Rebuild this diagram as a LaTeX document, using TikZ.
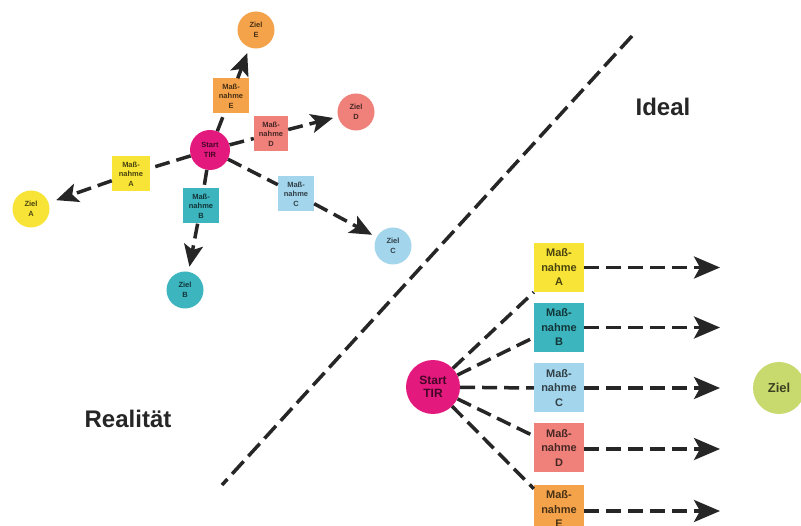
\documentclass[tikz,border=0pt]{standalone}
\usepackage{fontspec}
\setmainfont{Liberation Sans}
\usetikzlibrary{arrows.meta}
\definecolor{cyel}{HTML}{F7E436}
\definecolor{cteal}{HTML}{3DB5BE}
\definecolor{clblue}{HTML}{A3D5EC}
\definecolor{csalm}{HTML}{EF817A}
\definecolor{corng}{HTML}{F5A34A}
\definecolor{cmag}{HTML}{E3197E}
\definecolor{cgreen}{HTML}{C8DA6E}
\tikzset{
  x=1pt, y=-1pt,
  conn/.style={line width=3.5pt, dash pattern=on 15pt off 7pt, black!85},
  arr/.style={conn, -{Stealth[length=26pt,width=22pt,inset=6pt]}},
  sarr/.style={conn, -{Stealth[length=22pt,width=19pt,inset=5pt]}},
  sbox/.style={draw=none, fill=#1, text=black!70!#1, minimum width=36pt, minimum height=35pt, inner sep=0pt, align=center, font=\bfseries\fontsize{7.5}{9.5}\selectfont},
  bbox/.style={draw=none, fill=#1, text=black!70!#1, minimum width=50pt, minimum height=49pt, inner sep=0pt, align=center, font=\bfseries\fontsize{11}{14.5}\selectfont},
  scirc/.style={circle, draw=none, fill=#1, text=black!70!#1, minimum size=37pt, inner sep=0pt, align=center, font=\bfseries\fontsize{7.5}{9.5}\selectfont},
  bcirc/.style={circle, draw=none, fill=#1, text=black!70!#1, minimum size=54pt, inner sep=0pt, align=center, font=\bfseries\fontsize{12}{13.5}\selectfont},
  bigtext/.style={font=\bfseries\fontsize{24}{28}\selectfont, text=black!85},
}
\begin{document}
\begin{tikzpicture}
\useasboundingbox (0,0) rectangle (801,526);
\clip (0,0) rectangle (801,526);
\fill[white] (0,0) rectangle (801,526);

% divider
\coordinate (d1) at (632,36);
\coordinate (d2) at (222,485);
\draw[line width=3.5pt, dash pattern=on 17pt off 7pt, black!85] (d1) -- (d2);

\node[bigtext] (ideal) at (663,107) {Ideal};
\node[bigtext] (real) at (128,419) {Realität};

% left network (Realitaet)
\node[scirc=cmag, minimum size=40pt] (s1) at (210,150) {Start\\TIR};
\node[sbox=corng] (me) at (231,96) {Maß-\\nahme\\E};
\node[sbox=csalm, minimum width=34pt] (md) at (271,134) {Maß-\\nahme\\D};
\node[sbox=cyel, minimum width=38pt] (ma) at (131,174) {Maß-\\nahme\\A};
\node[sbox=cteal] (mb) at (201,206) {Maß-\\nahme\\B};
\node[sbox=clblue] (mc) at (296,194) {Maß-\\nahme\\C};
\node[scirc=cyel] (za) at (31,209) {Ziel\\A};
\node[scirc=cteal] (zb) at (185,290) {Ziel\\B};
\node[scirc=clblue] (zc) at (393,246) {Ziel\\C};
\node[scirc=csalm] (zd) at (356,112) {Ziel\\D};
\node[scirc=corng] (ze) at (256,30) {Ziel\\E};

\draw[conn] (s1) -- (me);
\draw[conn] (s1) -- (md);
\draw[conn] (s1) -- (ma);
\draw[conn] (s1) -- (mb);
\draw[conn] (s1) -- (mc);
\draw[sarr, shorten >=8pt] (ma) -- (za);
\draw[sarr, shorten >=5pt] (mb) -- (zb);
\draw[sarr, shorten >=5pt] (mc) -- (zc);
\draw[sarr, shorten >=5pt] (md) -- (zd);
\draw[sarr, shorten >=6pt] (me) -- (ze);

% right network (Ideal)
\node[bcirc=cmag] (s2) at (433,387) {Start\\TIR};
\node[bbox=cyel] (ra) at (559,267.5) {Maß-\\nahme\\A};
\node[bbox=cteal] (rb) at (559,327.5) {Maß-\\nahme\\B};
\node[bbox=clblue] (rc) at (559,388) {Maß-\\nahme\\C};
\node[bbox=csalm] (rd) at (559,448) {Maß-\\nahme\\D};
\node[bbox=corng] (re) at (559,509.5) {Maß-\\nahme\\E};
\node[bcirc=cgreen, minimum size=52pt, font=\bfseries\fontsize{13}{15}\selectfont] (ziel) at (779,388) {Ziel};

\draw[conn] (s2) -- (ra.south west);
\draw[conn] (s2) -- ([yshift=-10pt]rb.west);
\draw[conn] (s2) -- (rc.west);
\draw[conn] (s2) -- ([yshift=12pt]rd.west);
\draw[conn] (s2) -- ([yshift=-4pt]re.north west);

\coordinate (ta) at (720,267.5);
\coordinate (tb) at (720,327.5);
\coordinate (tc) at (720,388);
\coordinate (td) at (720,449);
\coordinate (te) at (720,511);
\draw[arr] (ra.east) -- (ta);
\draw[arr] (rb.east) -- (tb);
\draw[arr] (rc.east) -- (tc);
\draw[arr] ([yshift=-1pt]rd.east) -- (td);
\draw[arr] ([yshift=-1.5pt]re.east) -- (te);
\end{tikzpicture}
\end{document}
